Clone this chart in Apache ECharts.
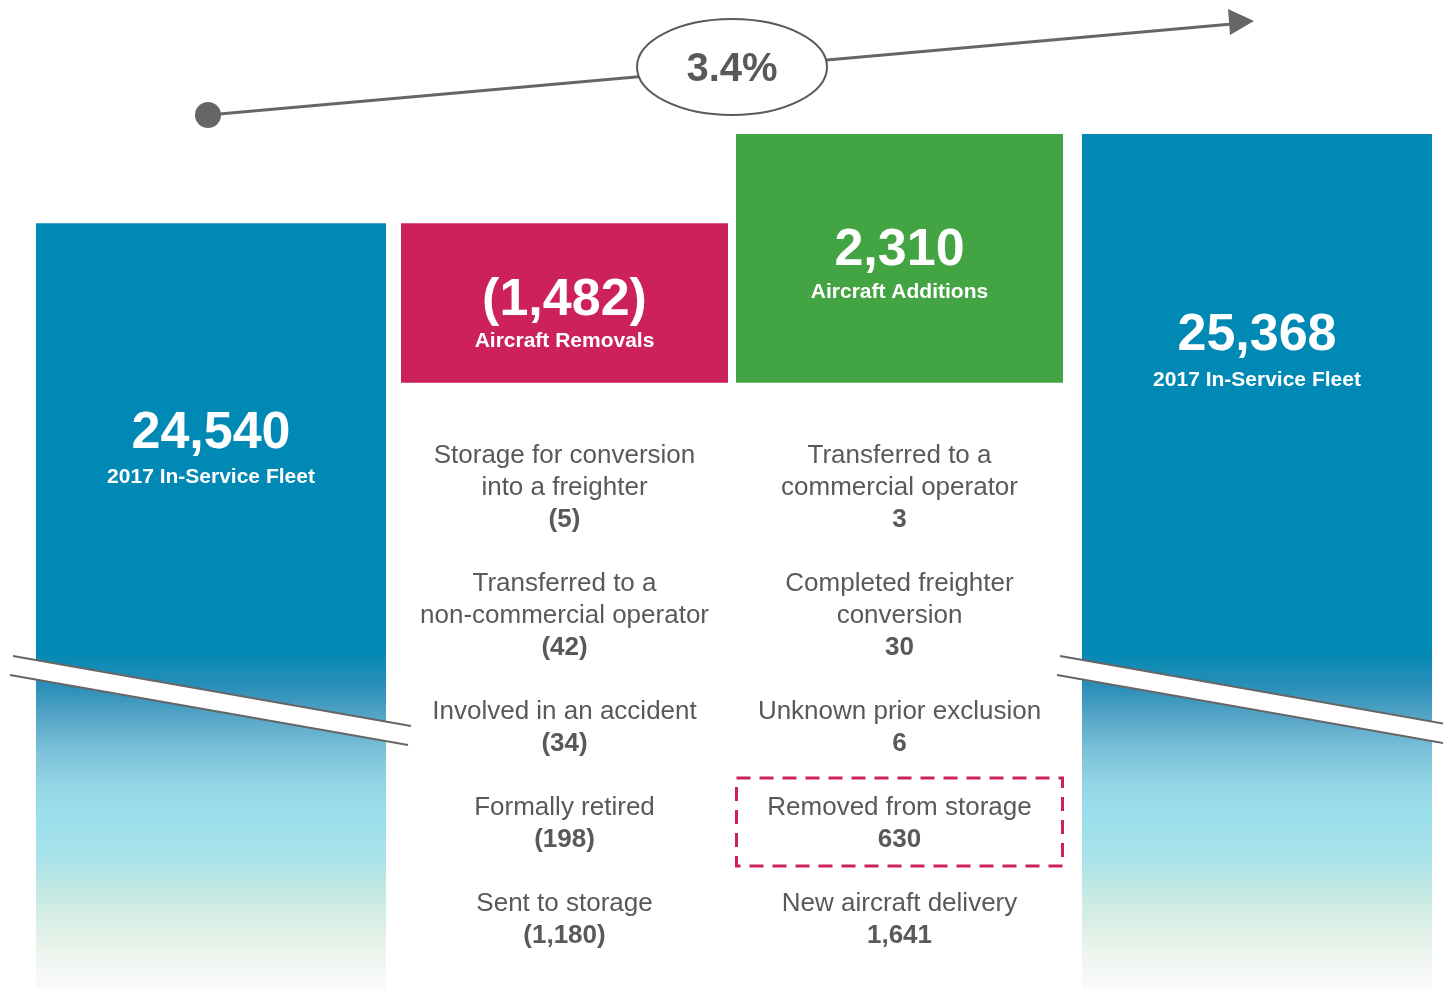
<!DOCTYPE html>
<html>
<head>
<meta charset="utf-8">
<title>In-Service Fleet 2017</title>
<script src="https://cdn.jsdelivr.net/npm/echarts@6/dist/echarts.min.js"></script>
<style>
html, body { margin: 0; padding: 0; background: #fff; }
#main { width: 1443px; height: 989px; }
</style>
</head>
<body>
<div id="main"></div>
<script>
// data
var fleetCats = ['Start of 2017', '', '', 'End of 2017'];
var fleetValues = [24540, '-', '-', 25368];
var fleetName = '2017 In-Service Fleet';
var changeCats = ['Aircraft Removals', 'Aircraft Additions'];
var removalTotal = 1482;
var additionTotal = 2310;
var growthLabel = '3.4%';
var removalItems = ['Storage for conversion\ninto a freighter', 'Transferred to a\nnon-commercial operator', 'Involved in an accident', 'Formally retired', 'Sent to storage'];
var removalValues = [5, 42, 34, 198, 1180];
var additionItems = ['Transferred to a\ncommercial operator', 'Completed freighter\nconversion', 'Unknown prior exclusion', 'Removed from storage', 'New aircraft delivery'];
var additionValues = [3, 30, 6, 630, 1641];
var highlightItem = 'Removed from storage';

var FONT = '"Liberation Sans", Arial, sans-serif';
var GRAY = '#595959';
var BLUE = '#0089b4';
var RED = '#cc2259';
var GREEN = '#43a443';

var fmt = function (v) { return Number(v).toLocaleString('en-US'); };

var base = fleetValues[0] - removalTotal;

var blueGrad = new echarts.graphic.LinearGradient(0, 0, 0, 989, [
    { offset: 0, color: BLUE },
    { offset: 0.657, color: BLUE },
    { offset: 0.695, color: '#2b8fb8' },
    { offset: 0.728, color: '#5aa8c8' },
    { offset: 0.761, color: '#7dc3da' },
    { offset: 0.796, color: '#95d6e6' },
    { offset: 0.829, color: '#9de0ec' },
    { offset: 0.862, color: '#a6e1ea' },
    { offset: 0.897, color: '#c0e8e4' },
    { offset: 0.930, color: '#d8eee4' },
    { offset: 0.964, color: '#eef5ef' },
    { offset: 1, color: '#fafafa' }
], true);

var richBig = {
    n: { color: '#fff', fontFamily: FONT, fontSize: 52, fontWeight: 'bold', lineHeight: 62 },
    s: { color: '#fff', fontFamily: FONT, fontSize: 21, fontWeight: 'bold', lineHeight: 26 }
};
var richChg = {
    n: { color: '#fff', fontFamily: FONT, fontSize: 52, fontWeight: 'bold', lineHeight: 56 },
    s: { color: '#fff', fontFamily: FONT, fontSize: 21, fontWeight: 'bold', lineHeight: 26 }
};

// the start bar is drawn a little taller than scale, so its label sits lower
var fleetLabelDist = [179, 0, 0, 171];

var myChart = echarts.init(document.getElementById('main'));

var option = {
    backgroundColor: '#fff',
    animation: false,
    grid: [
        { left: 36, right: 11, top: 134, bottom: 0 },
        { left: 397, right: 376, top: 134, bottom: 0 }
    ],
    xAxis: [
        { type: 'category', gridIndex: 0, data: fleetCats, show: false },
        { type: 'category', gridIndex: 1, data: changeCats, show: false }
    ],
    yAxis: [
        { type: 'value', gridIndex: 0, min: 17430, max: 25368, show: false },
        { type: 'value', gridIndex: 1, min: 17430, max: 25368, show: false }
    ],
    series: [
        {
            name: fleetName,
            type: 'bar',
            xAxisIndex: 0,
            yAxisIndex: 0,
            data: fleetValues.map(function (v, i) {
                return { value: v, label: { distance: fleetLabelDist[i] } };
            }),
            barWidth: 351,
            silent: true,
            itemStyle: { color: blueGrad },
            label: {
                show: true,
                position: 'insideTop',
                formatter: function (p) { return '{n|' + fmt(p.value) + '}\n{s|' + fleetName + '}'; },
                rich: richBig
            }
        },
        {
            name: 'base',
            type: 'bar',
            xAxisIndex: 1,
            yAxisIndex: 1,
            stack: 'w',
            data: [base, base],
            barWidth: 327,
            silent: true,
            itemStyle: { color: 'transparent' }
        },
        {
            name: changeCats[0],
            type: 'bar',
            xAxisIndex: 1,
            yAxisIndex: 1,
            stack: 'w',
            data: [removalTotal, '-'],
            barWidth: 327,
            silent: true,
            itemStyle: { color: RED },
            label: {
                show: true,
                position: 'insideTop',
                distance: 49,
                formatter: function (p) { return '{n|(' + fmt(p.value) + ')}\n{s|' + changeCats[0] + '}'; },
                rich: richChg
            }
        },
        {
            name: changeCats[1],
            type: 'bar',
            xAxisIndex: 1,
            yAxisIndex: 1,
            stack: 'w',
            data: ['-', additionTotal],
            barWidth: 327,
            silent: true,
            itemStyle: { color: GREEN },
            label: {
                show: true,
                position: 'insideTop',
                distance: 89,
                formatter: function (p) { return '{n|' + fmt(p.value) + '}\n{s|' + changeCats[1] + '}'; },
                rich: richChg
            }
        }
    ]
};

myChart.setOption(option);

// breakdown text under the two change bars
var txt = function (s, x, y, bold) {
    return {
        type: 'text', z: 100, silent: true,
        style: {
            text: s, x: x, y: y, fill: GRAY,
            font: (bold ? 'bold ' : '') + '26px ' + FONT,
            align: 'center', verticalAlign: 'middle',
            textAlign: 'center', textVerticalAlign: 'middle'
        }
    };
};

var els = [];
var highlightBox = null;
var listColumn = function (items, values, x, neg) {
    var y = 456, step = 32;
    items.forEach(function (it, i) {
        var y0 = y;
        it.split('\n').forEach(function (line) {
            els.push(txt(line, x, y, false));
            y += step;
        });
        els.push(txt(neg ? '(' + fmt(values[i]) + ')' : fmt(values[i]), x, y, true));
        if (it === highlightItem) highlightBox = { x: x, y0: y0, y1: y };
        y += step * 2;
    });
};
var colRem = myChart.convertToPixel({ xAxisIndex: 1 }, changeCats[0]);
var colAdd = myChart.convertToPixel({ xAxisIndex: 1 }, changeCats[1]);
listColumn(removalItems, removalValues, colRem, true);
listColumn(additionItems, additionValues, colAdd, false);

if (highlightBox) {
    els.push({
        type: 'rect', z: 100, silent: true,
        shape: { x: highlightBox.x - 163, y: highlightBox.y0 - 30, width: 326, height: highlightBox.y1 - highlightBox.y0 + 56 },
        style: { fill: 'none', stroke: RED, lineWidth: 3, lineDash: [14, 9] }
    });
}

// axis-break bands across the fleet bars
var breakBand = function (x1, y1, x2, y2, gap) {
    els.push({
        type: 'polygon', z: 90, silent: true,
        shape: { points: [[x1, y1], [x2, y2], [x2 - 3, y2 + gap], [x1 - 3, y1 + gap]] },
        style: { fill: '#fff', stroke: 'none' }
    });
    els.push({ type: 'line', z: 91, silent: true, shape: { x1: x1, y1: y1, x2: x2, y2: y2 }, style: { stroke: '#666', lineWidth: 2 } });
    els.push({ type: 'line', z: 91, silent: true, shape: { x1: x1 - 3, y1: y1 + gap, x2: x2 - 3, y2: y2 + gap }, style: { stroke: '#666', lineWidth: 2 } });
};
breakBand(13, 656, 411, 726, 19);
breakBand(1060, 656, 1446, 724, 19);

// growth arrow
els.push({ type: 'line', z: 80, silent: true, shape: { x1: 208, y1: 115, x2: 1232, y2: 24 }, style: { stroke: '#666', lineWidth: 3 } });
els.push({ type: 'circle', z: 81, silent: true, shape: { cx: 208, cy: 115, r: 13 }, style: { fill: '#666' } });
els.push({ type: 'polygon', z: 81, silent: true, shape: { points: [[1254, 21], [1228, 9], [1230, 35]] }, style: { fill: '#666' } });
els.push({ type: 'ellipse', z: 82, silent: true, shape: { cx: 732, cy: 67, rx: 95, ry: 48 }, style: { fill: '#fff', stroke: GRAY, lineWidth: 2 } });
els.push({
    type: 'text', z: 83, silent: true,
    style: {
        text: growthLabel, x: 732, y: 70, fill: GRAY,
        font: 'bold 40px ' + FONT,
        align: 'center', verticalAlign: 'middle',
        textAlign: 'center', textVerticalAlign: 'middle'
    }
});

myChart.setOption({ graphic: { elements: els } });
</script>
</body>
</html>
